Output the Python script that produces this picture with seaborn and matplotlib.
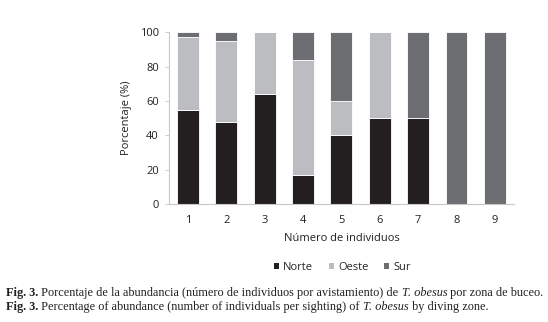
import matplotlib
matplotlib.use("Agg")
import matplotlib.pyplot as plt
import seaborn as sns
import pandas as pd
from matplotlib.patches import Patch

# numero de individuos por avistamiento
individuos = ["1", "2", "3", "4", "5", "6", "7", "8", "9"]
norte = [55, 48, 64, 17, 40, 50, 50, 0, 0]
oeste = [42, 47, 36, 67, 20, 50, 0, 0, 0]
sur = [3, 5, 0, 16, 40, 0, 50, 100, 100]

zonas = ["Norte", "Oeste", "Sur"]
colores = {"Norte": "#231f20", "Oeste": "#bcbdc0", "Sur": "#6d6e71"}

caption_es = [("Fig. 3.", "bold", "normal"),
              (" Porcentaje de la abundancia (número de individuos por avistamiento) de ", "normal", "normal"),
              ("T. obesus", "normal", "italic"),
              (" por zona de buceo.", "normal", "normal")]
caption_en = [("Fig. 3.", "bold", "normal"),
              (" Percentage of abundance (number of individuals per sighting) of ", "normal", "normal"),
              ("T. obesus", "normal", "italic"),
              (" by diving zone.", "normal", "normal")]

df = pd.DataFrame({"Individuos": individuos, "Norte": norte, "Oeste": oeste, "Sur": sur})

sns.set_style("white")
plt.rcParams["font.family"] = ["Open Sans", "DejaVu Sans"]

fig = plt.figure(figsize=(5.48, 3.22), dpi=100)
ax = fig.add_axes([0.308, 0.366, 0.63, 0.534])

# barras apiladas
base = [0] * len(individuos)
for z in zonas:
    sns.barplot(data=df, x="Individuos", y=z, order=individuos, bottom=base,
                color=colores[z], width=0.57, edgecolor="white", linewidth=0.6,
                saturation=1, ax=ax)
    base = [b + v for b, v in zip(base, df[z])]

ax.set_ylim(0, 100)
ax.set_xlim(-0.5, 8.5)
ax.set_yticks(range(0, 101, 20))
ax.set_xlabel("Número de individuos", fontsize=8, color="#231f20", labelpad=5)
ax.set_ylabel("Porcentaje (%)", fontsize=8, color="#231f20", labelpad=6)
ax.tick_params(axis="y", left=True, length=3, width=0.6, color="#c8c8c8",
               labelsize=8, labelcolor="#231f20", pad=4)
ax.tick_params(axis="x", bottom=False, labelsize=8, labelcolor="#231f20", pad=4)
sns.despine(ax=ax, top=True, right=True)
for s in ["left", "bottom"]:
    ax.spines[s].set_color("#c8c8c8")
    ax.spines[s].set_linewidth(0.8)

handles = [Patch(facecolor=colores[z], edgecolor="none", label=z) for z in zonas]
fig.legend(handles=handles, loc="center", bbox_to_anchor=(0.625, 0.168), ncol=3,
           frameon=False, fontsize=8, handlelength=0.45, handleheight=0.45,
           handletextpad=0.4, columnspacing=1.4)


def chain(pieces, y):
    # each piece placed right after the previous one
    txt, weight, style = pieces[0]
    prev = fig.text(0.011, y, txt, fontsize=8.8, family="Liberation Serif",
                    weight=weight, style=style, va="baseline", color="#231f20")
    for txt, weight, style in pieces[1:]:
        prev = ax.annotate(txt, xy=(1, 0), xycoords=prev, xytext=(0, 0),
                           textcoords="offset points", fontsize=8.8,
                           family="Liberation Serif", weight=weight, style=style,
                           va="bottom", ha="left", color="#231f20",
                           annotation_clip=False)


chain(caption_es, 0.08)
chain(caption_en, 0.036)

fig.savefig("out.png", dpi=100)
